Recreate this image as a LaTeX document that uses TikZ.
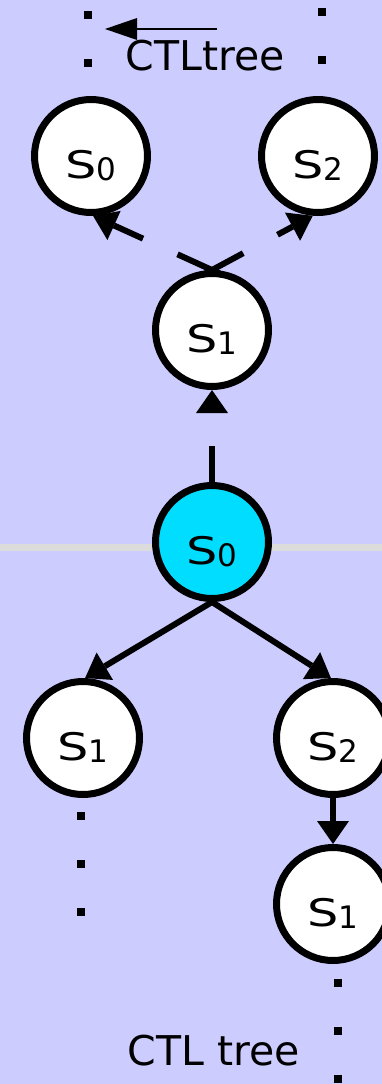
\documentclass[tikz,border=0pt]{standalone}
\usepackage{fontspec}
\setmainfont{DejaVu Sans}
\usetikzlibrary{arrows.meta,calc}
\definecolor{bgc}{RGB}{204,204,255}
\definecolor{cyanfill}{RGB}{0,221,255}
\definecolor{rulegray}{RGB}{220,220,220}
\pgfdeclarelayer{back}
\pgfdeclarelayer{edges}
\pgfsetlayers{back,edges,main}
% state label: wide S followed by a smaller, slightly lowered index
\newcommand\stlabel[1]{\raisebox{-22pt}[0pt][0pt]{\scalebox{1.3}[1]{\fontsize{38}{38}\selectfont S}\raisebox{-2pt}{\fontsize{31}{31}\selectfont #1}}}
\begin{document}
\begin{tikzpicture}[x=1pt,y=-1pt,
  stnode/.style={circle,draw=black,line width=7pt,fill=white,minimum size=113pt,inner sep=0pt},
  link/.style={line width=6pt},
  linktip/.style={line width=6pt,-{Triangle[length=23pt,width=32pt,line width=0pt]}},
  dotcol/.style={line width=8pt,dash pattern=on 8pt off 40pt},
  caption/.style={font=\fontsize{41}{41}\selectfont,anchor=base,inner sep=0pt}]
\useasboundingbox (0,0) rectangle (382,1084);

% background and horizontal rule
\begin{pgfonlayer}{back}
  \fill[bgc] (0,0) rectangle (382,1084);
  \draw[rulegray,line width=7pt] (0,547) -- (382,547);
\end{pgfonlayer}

% states
\node[stnode] (s0tl) at (91,156) {\stlabel{0}};
\node[stnode] (s2tr) at (318,156) {\stlabel{2}};
\node[stnode] (s1m) at (212,330) {\stlabel{1}};
\node[stnode,fill=cyanfill] (s0c) at (212,542) {\stlabel{0}};
\node[stnode] (s1bl) at (83,738) {\stlabel{1}};
\node[stnode] (s2br) at (333,738) {\stlabel{2}};
\node[stnode] (s1b) at (333,904) {\stlabel{1}};

% captions
\node[caption] (capTop) at (205,70) {CTLtree};
\node[caption] (capBot) at (214,1065) {CTL tree};

% thin pointer above the top caption
\coordinate (ptrA) at (217,29);
\coordinate (ptrB) at (105,29);
\draw[line width=1.2pt,-{Triangle[length=32pt,width=22pt,line width=0pt]}] (ptrA) -- (ptrB);

% continuation dots
\coordinate (dtlA) at (88,11);   \coordinate (dtlB) at (88,67);
\coordinate (dtrA) at (322,8);   \coordinate (dtrB) at (322,64);
\coordinate (dblA) at (81,812);  \coordinate (dblB) at (81,916);
\coordinate (dbrA) at (338,979); \coordinate (dbrB) at (338,1084);
\draw[dotcol] (dtlA) -- (dtlB);
\draw[dotcol] (dtrA) -- (dtrB);
\draw[dotcol] (dblA) -- (dblB);
\draw[dotcol] (dbrA) -- (dbrB);

\begin{pgfonlayer}{edges}
  % upward tree: broken connectors
  \coordinate (eL) at (s0tl.-88);
  \coordinate (eR) at (s2tr.-95);
  \draw[link] (s0c.north) -- ($(s0c.north)!0.39!(s1m.south)$);
  \draw[linktip] ($(s0c.north)!0.75!(s1m.south)$) -- (s1m.south);
  \draw[link] ($(s1m.north)!-0.08!(eL)$) -- ($(s1m.north)!0.29!(eL)$);
  \draw[linktip] ($(s1m.north)!0.58!(eL)$) -- (eL);
  \draw[link] ($(s1m.north)!-0.08!(eR)$) -- ($(s1m.north)!0.31!(eR)$);
  \draw[linktip] ($(s1m.north)!0.65!(eR)$) -- (eR);
  % downward tree
  \draw[linktip] (s0c.south) -- (s1bl.88);
  \draw[linktip] (s0c.south) -- (s2br.92);
  \draw[linktip] (s2br.south) -- (s1b.north);
\end{pgfonlayer}
\end{tikzpicture}
\end{document}
